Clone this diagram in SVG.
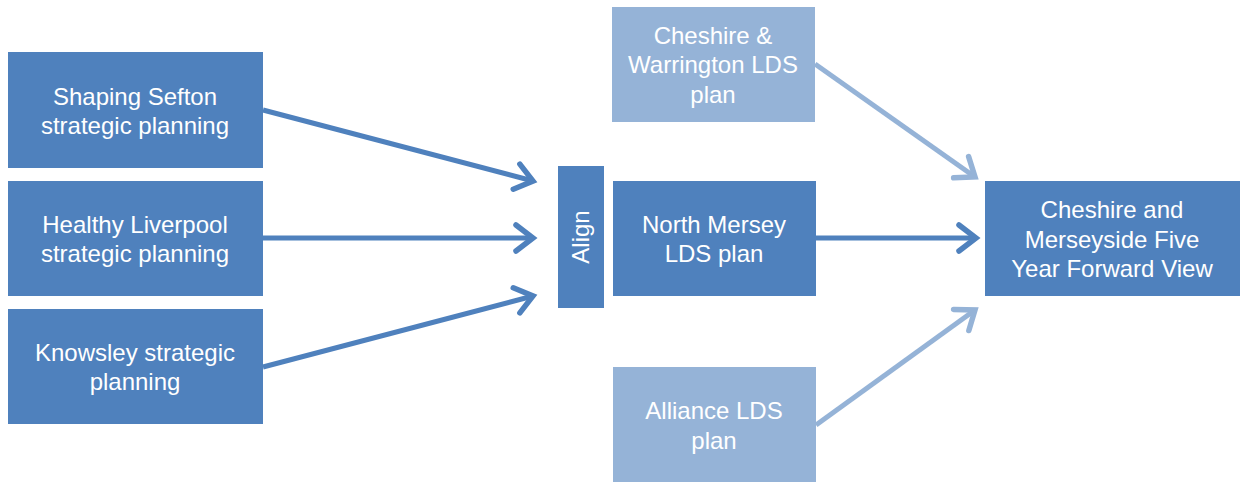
<svg xmlns="http://www.w3.org/2000/svg" width="1242" height="484" viewBox="0 0 1242 484">
<defs>
<style>
.d{fill:#4F81BD}
.l{fill:#95B3D7}
text{font-family:"Liberation Sans",Arial,sans-serif;font-size:24px;fill:#fff;text-anchor:middle}
.cd{stroke:#4F81BD;stroke-width:5;fill:none}
.cl{stroke:#95B3D7;stroke-width:5;fill:none}
</style>
<marker id="ad" markerUnits="userSpaceOnUse" markerWidth="40" markerHeight="40" refX="0" refY="0" viewBox="-25 -20 30 40" orient="auto" overflow="visible">
<path d="M-17,-13 L0,0 L-17,13" fill="none" stroke="#4F81BD" stroke-width="5.5" stroke-linecap="round" stroke-linejoin="miter"/>
</marker>
<marker id="al" markerUnits="userSpaceOnUse" markerWidth="40" markerHeight="40" refX="0" refY="0" viewBox="-25 -20 30 40" orient="auto" overflow="visible">
<path d="M-17,-13 L0,0 L-17,13" fill="none" stroke="#95B3D7" stroke-width="5.5" stroke-linecap="round" stroke-linejoin="miter"/>
</marker>
</defs>
<g id="connectors">
<line class="cd" x1="263" y1="110" x2="533" y2="181" marker-end="url(#ad)"/>
<line class="cd" x1="263" y1="238" x2="533" y2="238" marker-end="url(#ad)"/>
<line class="cd" x1="263" y1="367" x2="533" y2="296" marker-end="url(#ad)"/>
<line class="cd" x1="816" y1="238" x2="976" y2="238" marker-end="url(#ad)"/>
<line class="cl" x1="815" y1="64" x2="975" y2="177" marker-end="url(#al)"/>
<line class="cl" x1="816" y1="425" x2="975" y2="310" marker-end="url(#al)"/>
</g>
<g id="shaping">
<rect class="d" x="8" y="52" width="255" height="116"/>
<text x="135" y="105">Shaping Sefton</text>
<text x="135" y="134">strategic planning</text>
</g>
<g id="healthy">
<rect class="d" x="8" y="181" width="255" height="115"/>
<text x="135" y="233">Healthy Liverpool</text>
<text x="135" y="262">strategic planning</text>
</g>
<g id="knowsley">
<rect class="d" x="8" y="309" width="255" height="115"/>
<text x="135" y="361">Knowsley strategic</text>
<text x="135" y="390">planning</text>
</g>
<g id="align">
<rect class="d" x="558" y="166" width="46" height="142"/>
<text transform="translate(589,237) rotate(-90)">Align</text>
</g>
<g id="cheshire-warrington">
<rect class="l" x="612" y="7" width="203" height="115"/>
<text x="713" y="44">Cheshire &amp;</text>
<text x="713" y="73">Warrington LDS</text>
<text x="713" y="103">plan</text>
</g>
<g id="north-mersey">
<rect class="d" x="613" y="181" width="203" height="115"/>
<text x="714" y="233">North Mersey</text>
<text x="714" y="262">LDS plan</text>
</g>
<g id="alliance">
<rect class="l" x="613" y="367" width="203" height="115"/>
<text x="714" y="419">Alliance LDS</text>
<text x="714" y="449">plan</text>
</g>
<g id="five-year">
<rect class="d" x="985" y="181" width="255" height="115"/>
<text x="1112" y="218">Cheshire and</text>
<text x="1112" y="248">Merseyside Five</text>
<text x="1112" y="277">Year Forward View</text>
</g>
</svg>
